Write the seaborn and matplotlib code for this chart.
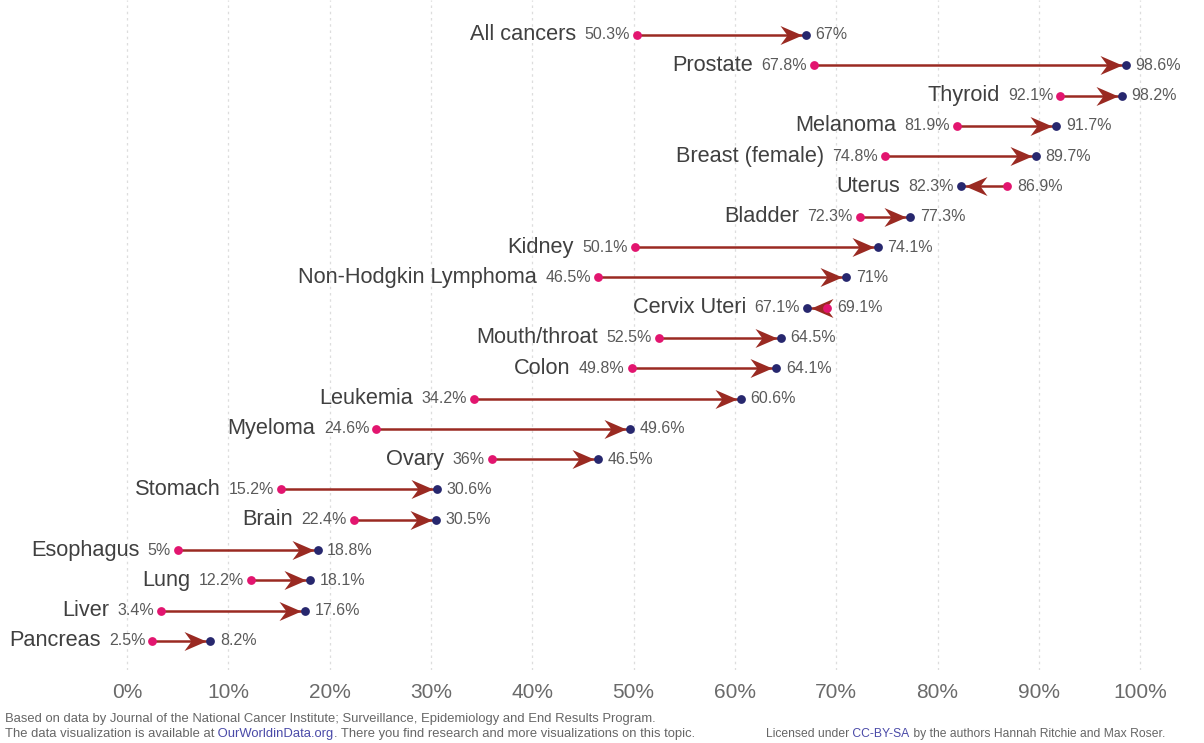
import pandas as pd
import seaborn as sns
import matplotlib.pyplot as plt
from matplotlib.path import Path

# survival rates, earlier period -> later period
cancers = ["All cancers", "Prostate", "Thyroid", "Melanoma", "Breast (female)", "Uterus",
           "Bladder", "Kidney", "Non-Hodgkin Lymphoma", "Cervix Uteri", "Mouth/throat",
           "Colon", "Leukemia", "Myeloma", "Ovary", "Stomach", "Brain", "Esophagus",
           "Lung", "Liver", "Pancreas"]
start_vals = [50.3, 67.8, 92.1, 81.9, 74.8, 86.9, 72.3, 50.1, 46.5, 69.1, 52.5,
              49.8, 34.2, 24.6, 36, 15.2, 22.4, 5, 12.2, 3.4, 2.5]
end_vals = [67, 98.6, 98.2, 91.7, 89.7, 82.3, 77.3, 74.1, 71, 67.1, 64.5,
            64.1, 60.6, 49.6, 46.5, 30.6, 30.5, 18.8, 18.1, 17.6, 8.2]
x_ticks = list(range(0, 101, 10))

df = pd.DataFrame({"cancer": cancers, "start": start_vals, "end": end_vals})
df["row"] = range(len(df))
df["up"] = df["end"] >= df["start"]

sns.set_theme(style="white")
plt.rcParams["font.family"] = ["Liberation Sans", "DejaVu Sans"]

PINK = "#e2156f"
NAVY = "#27276e"
ARROW = "#9a2a22"

# stealth-style arrow heads; the tip stops at the edge of the end dot
head_r = Path([(-4, 0), (-26, 9.5), (-19, 0), (-26, -9.5), (-4, 0)],
              [Path.MOVETO, Path.LINETO, Path.LINETO, Path.LINETO, Path.CLOSEPOLY])
head_l = Path([(4, 0), (26, 9.5), (19, 0), (26, -9.5), (4, 0)],
              [Path.MOVETO, Path.LINETO, Path.LINETO, Path.LINETO, Path.CLOSEPOLY])
head_size = (52 * 0.72) ** 2

fig = plt.figure(figsize=(12.04, 7.43), dpi=100)
ax = fig.add_axes([0, 73 / 743, 1, 670 / 743])

ax.hlines(df["row"], df["start"], df["end"], color=ARROW, lw=1.8, zorder=2)
sns.scatterplot(data=df[df["up"]], x="end", y="row", marker=head_r, s=head_size,
                color=ARROW, linewidth=0, ax=ax, zorder=2)
sns.scatterplot(data=df[~df["up"]], x="end", y="row", marker=head_l, s=head_size,
                color=ARROW, linewidth=0, ax=ax, zorder=2)

sns.scatterplot(data=df, x="start", y="row", color=PINK, s=40, linewidth=0,
                ax=ax, zorder=3)
sns.scatterplot(data=df, x="end", y="row", color=NAVY, s=40, linewidth=0,
                ax=ax, zorder=3)

def fmt(v):
    return f"{v:g}%"

for _, r in df.iterrows():
    lo, hi = min(r["start"], r["end"]), max(r["start"], r["end"])
    val = ax.annotate(fmt(lo), xy=(lo, r["row"]), xytext=(-5, 0), textcoords="offset points",
                      ha="right", va="center", fontsize=11.5, color="#5a5a5a")
    ax.annotate(r["cancer"], xy=(0, 0.5), xycoords=val, xytext=(-6, 0),
                textcoords="offset points", ha="right", va="center",
                fontsize=15.7, color="#404040")
    ax.annotate(fmt(hi), xy=(hi, r["row"]), xytext=(7, 0), textcoords="offset points",
                ha="left", va="center", fontsize=11.5, color="#5a5a5a")

ax.set_xlim(-12.54, 106.3)
ax.set_ylim(20.96, -1.155)
ax.set_xticks(x_ticks)
ax.set_xticklabels([f"{t}%" for t in x_ticks], fontsize=15, color="#6a6a6a")
ax.set_yticks([])
ax.set_xlabel("")
ax.set_ylabel("")
ax.tick_params(axis="x", length=0, pad=9)
ax.grid(axis="x", linestyle=(0, (2, 3)), color="#dddddd", lw=0.9)
for s in ax.spines.values():
    s.set_visible(False)

# footer
fs = 9.4
foot = dict(fontsize=fs, color="#666666", va="center")
fig.text(5 / 1204, 1 - 719 / 743,
         "Based on data by Journal of the National Cancer Institute; "
         "Surveillance, Epidemiology and End Results Program.", **foot)
t1 = fig.text(5 / 1204, 1 - 734 / 743, "The data visualization is available at", **foot)
t2 = ax.annotate(" OurWorldinData.org", xy=(1, 0), xycoords=t1, va="bottom",
                 fontsize=fs, color="#4a4aa8", annotation_clip=False)
ax.annotate(". There you find research and more visualizations on this topic.",
            xy=(1, 0), xycoords=t2, va="bottom", fontsize=fs, color="#666666",
            annotation_clip=False)
fs2 = 8.7
t3 = fig.text(766 / 1204, 1 - 734 / 743, "Licensed under", fontsize=fs2,
              color="#666666", va="center")
t4 = ax.annotate(" CC-BY-SA", xy=(1, 0), xycoords=t3, va="bottom",
                 fontsize=fs2, color="#4a4aa8", annotation_clip=False)
ax.annotate(" by the authors Hannah Ritchie and Max Roser.", xy=(1, 0), xycoords=t4,
            va="bottom", fontsize=fs2, color="#666666", annotation_clip=False)

fig.savefig("out.png", dpi=100)
